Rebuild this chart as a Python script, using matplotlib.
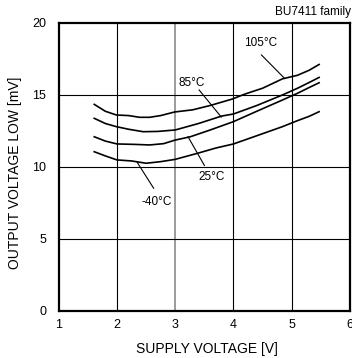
import matplotlib
matplotlib.use("Agg")
import matplotlib.pyplot as plt

plt.rcParams['font.family'] = ['Liberation Sans', 'DejaVu Sans']

# Output voltage low vs supply voltage at four temperatures
x_105 = [1.61, 1.80, 1.99, 2.20, 2.39, 2.56, 2.75, 2.99, 3.30, 3.60, 3.98, 4.20, 4.50, 4.84, 5.10, 5.30, 5.47]
y_105 = [14.33, 13.85, 13.59, 13.55, 13.43, 13.43, 13.55, 13.80, 13.95, 14.25, 14.70, 15.05, 15.45, 16.10, 16.35, 16.70, 17.10]

x_85 = [1.61, 1.80, 1.99, 2.20, 2.45, 2.70, 3.00, 3.40, 3.80, 4.00, 4.40, 4.84, 5.10, 5.30, 5.47]
y_85 = [13.36, 13.00, 12.78, 12.60, 12.43, 12.45, 12.55, 13.00, 13.52, 13.66, 14.25, 14.98, 15.45, 15.85, 16.20]

x_25 = [1.61, 1.80, 2.00, 2.30, 2.56, 2.80, 3.00, 3.26, 3.60, 4.00, 4.40, 4.84, 5.10, 5.30, 5.47]
y_25 = [12.08, 11.78, 11.58, 11.55, 11.51, 11.60, 11.85, 12.08, 12.55, 13.13, 13.85, 14.63, 15.10, 15.50, 15.83]

x_m40 = [1.61, 1.80, 2.00, 2.25, 2.50, 2.75, 3.00, 3.40, 3.70, 4.00, 4.40, 4.84, 5.10, 5.30, 5.47]
y_m40 = [11.04, 10.75, 10.47, 10.40, 10.24, 10.35, 10.51, 10.95, 11.30, 11.58, 12.15, 12.78, 13.20, 13.50, 13.82]

x_ticks = [1, 2, 3, 4, 5, 6]
y_ticks = [0, 5, 10, 15, 20]

fig = plt.figure(figsize=(3.52, 3.58), dpi=100)
ax = fig.add_axes([0.1668, 0.1321, 0.8275, 0.8045])

for xs, ys in [(x_105, y_105), (x_85, y_85), (x_25, y_25), (x_m40, y_m40)]:
    ax.plot(xs, ys, color='black', lw=1.2, zorder=3)

ax.set_xlim(1, 6)
ax.set_ylim(0, 20)
ax.set_xticks(x_ticks)
ax.set_yticks(y_ticks)
ax.tick_params(length=0, labelsize=9)
ax.tick_params(axis='y', pad=9)
ax.tick_params(axis='x', pad=6)
for gx in x_ticks[1:-1]:
    ax.axvline(gx, color='#808080' if gx == 3 else 'black', lw=0.8 if gx != 3 else 1.1, zorder=1)
for gy in y_ticks[1:-1]:
    ax.axhline(gy, color='black', lw=0.8, zorder=1)
for s in ax.spines.values():
    s.set_linewidth(1.6)

ax.set_xlabel('SUPPLY VOLTAGE [V]', fontsize=10, va='center')
ax.set_ylabel('OUTPUT VOLTAGE LOW [mV]', fontsize=10, va='center')
ax.xaxis.set_label_coords(0.51, -0.133)
ax.yaxis.set_label_coords(-0.15, 0.48)

# Temperature labels with leader lines
labels = [
    ('105°C', (4.46, 18.6), (4.48, 17.76), (4.87, 16.16)),
    ('85°C', (3.28, 15.81), (3.41, 15.33), (3.79, 13.45)),
    ('25°C', (3.62, 9.28), (3.22, 12.08), (3.50, 10.09)),
    ('-40°C', (2.68, 7.57), (2.34, 10.35), (2.63, 8.50)),
]
for txt, tpos, p0, p1 in labels:
    ax.text(tpos[0], tpos[1], txt, fontsize=8.5, ha='center', va='center', zorder=4)
    ax.plot([p0[0], p1[0]], [p0[1], p1[1]], color='black', lw=0.8, zorder=4)

fig.text(0.998, 0.966, 'BU7411 family', fontsize=8.5, ha='right', va='center')

fig.savefig('out.png', dpi=100)
